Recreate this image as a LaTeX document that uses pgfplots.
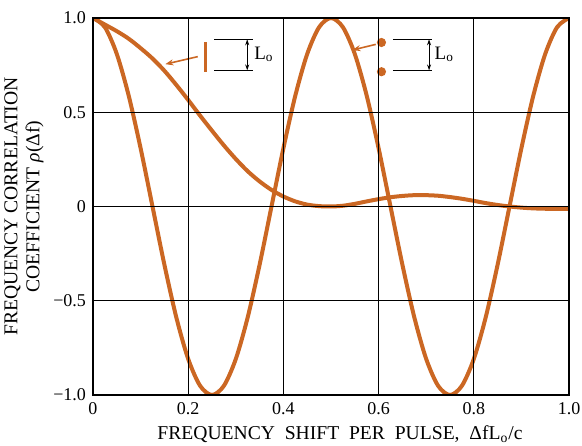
\documentclass[border=0pt]{standalone}
\usepackage{fontspec}
\setmainfont{Liberation Serif}
\usepackage{pgfplots}
\pgfplotsset{compat=1.18}
\usetikzlibrary{arrows.meta}
\definecolor{curve}{RGB}{203,103,35}

% fine-shape target (line of length L_o)
\pgfplotstableread{
x y
0 1
0.025 0.965
0.05 0.93
0.075 0.89
0.1 0.84
0.125 0.785
0.15 0.72
0.175 0.645
0.2 0.565
0.225 0.482
0.25 0.402
0.275 0.324
0.3 0.252
0.325 0.187
0.35 0.133
0.375 0.088
0.4 0.053
0.425 0.027
0.45 0.01
0.475 0.002
0.5 0.0
0.525 0.004
0.55 0.014
0.575 0.027
0.6 0.039
0.625 0.049
0.65 0.056
0.675 0.06
0.7 0.06
0.725 0.057
0.75 0.05
0.775 0.041
0.8 0.03
0.825 0.018
0.85 0.008
0.875 0.0
0.9 -0.006
0.925 -0.01
0.95 -0.012
0.975 -0.013
1.0 -0.013
}\linetarget

% two point scatterers
\pgfplotstableread{
x y
0 1
0.025 0.9511
0.05 0.8090
0.075 0.5878
0.1 0.3090
0.125 0
0.15 -0.3090
0.175 -0.5878
0.2 -0.8090
0.225 -0.9511
0.25 -1
0.275 -0.9511
0.3 -0.8090
0.325 -0.5878
0.35 -0.3090
0.375 0
0.4 0.3090
0.425 0.5878
0.45 0.8090
0.475 0.9511
0.5 1
0.525 0.9511
0.55 0.8090
0.575 0.5878
0.6 0.3090
0.625 0
0.65 -0.3090
0.675 -0.5878
0.7 -0.8090
0.725 -0.9511
0.75 -1
0.775 -0.9511
0.8 -0.8090
0.825 -0.5878
0.85 -0.3090
0.875 0
0.9 0.3090
0.925 0.5878
0.95 0.8090
0.975 0.9511
1.0 1
}\twopoints

\begin{document}
\begin{tikzpicture}
\begin{axis}[
  scale only axis,
  width=238pt, height=188.5pt,
  xmin=0, xmax=1, ymin=-1, ymax=1,
  xtick={0,0.2,0.4,0.6,0.8,1.0},
  xticklabels={0,0.2,0.4,0.6,0.8,1.0},
  ytick={-1,-0.5,0,0.5,1},
  yticklabels={−1.0,−0.5,0,0.5,1.0},
  major tick length=0pt,
  grid=major,
  grid style={black, line width=0.5pt},
  axis line style={black, line width=0.6pt},
  axis on top,
  tick label style={font=\fontsize{9}{10}\selectfont},
  label style={font=\fontsize{9.8}{11}\selectfont},
  xlabel={FREQUENCY\ \ SHIFT\ \ PER\ \ PULSE,\ \ ΔfL\textsubscript{o}/c},
  xlabel style={yshift=1pt, xshift=4.5pt},
  ylabel={FREQUENCY CORRELATION\\COEFFICIENT \textit{ρ}(Δf)},
  ylabel style={align=center, yshift=-2pt},
]
\addplot[curve, line width=2pt, smooth] table {\linetarget};
\addplot[curve, line width=2pt, smooth] table {\twopoints};

% line target icon
\draw[curve, line width=1.6pt] (axis cs:0.236,0.872) -- (axis cs:0.236,0.713);
\draw[black, line width=0.6pt] (axis cs:0.255,0.887) -- (axis cs:0.336,0.887);
\draw[black, line width=0.6pt] (axis cs:0.255,0.722) -- (axis cs:0.336,0.722);
\draw[black, line width=0.5pt, {Stealth[length=3pt,width=2pt]}-{Stealth[length=3pt,width=2pt]}] (axis cs:0.324,0.887) -- (axis cs:0.324,0.722);
\node[anchor=west, inner sep=0pt, font=\fontsize{9.5}{10}\selectfont] at (axis cs:0.338,0.805) {L\textsubscript{o}};
\draw[curve, line width=0.8pt, -{Stealth[length=4pt,width=3pt]}] (axis cs:0.22,0.795) -- (axis cs:0.152,0.755);

% two point icon
\fill[curve] (axis cs:0.606,0.87) circle[radius=2.3pt];
\fill[curve] (axis cs:0.606,0.715) circle[radius=2.3pt];
\draw[black, line width=0.6pt] (axis cs:0.630,0.887) -- (axis cs:0.713,0.887);
\draw[black, line width=0.6pt] (axis cs:0.630,0.722) -- (axis cs:0.713,0.722);
\draw[black, line width=0.5pt, {Stealth[length=3pt,width=2pt]}-{Stealth[length=3pt,width=2pt]}] (axis cs:0.706,0.887) -- (axis cs:0.706,0.722);
\node[anchor=west, inner sep=0pt, font=\fontsize{9.5}{10}\selectfont] at (axis cs:0.717,0.805) {L\textsubscript{o}};
\draw[curve, line width=0.8pt, -{Stealth[length=4pt,width=3pt]}] (axis cs:0.594,0.86) -- (axis cs:0.545,0.83);
\end{axis}
\pgfresetboundingbox
\useasboundingbox ([xshift=-46.5pt,yshift=-25.5pt]current axis.south west) rectangle ([xshift=6.5pt,yshift=9pt]current axis.north east);
\end{tikzpicture}
\end{document}
